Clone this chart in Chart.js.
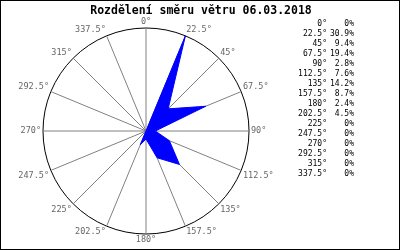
<!DOCTYPE html>
<html>
<head>
<meta charset="utf-8">
<script src="https://cdn.jsdelivr.net/npm/chart.js@4"></script>
<style>
    body { margin: 0; background: #fff; }
    #box {
        position: relative;
        width: 400px;
        height: 250px;
        border: 1px solid #000;
        box-sizing: border-box;
    }
    #chart { position: absolute; left: 0; top: 0; }
    #title {
        position: absolute;
        left: 0;
        width: 400px;
        top: 3px;
        text-align: center;
        font: bold 11.5px "DejaVu Sans Mono", monospace;
        line-height: 12px;
        color: #000;
    }
    .col {
        position: absolute;
        top: 17.5px;
        font: 8px "DejaVu Sans Mono", monospace;
        line-height: 10px;
        white-space: pre;
        text-align: right;
        color: #000;
    }
</style>
</head>
<body>
<div id="box">
    <canvas id="chart" width="400" height="250"></canvas>
    <div id="title"></div>
    <div id="legend-dir" class="col" style="right: 72px;"></div>
    <div id="legend-val" class="col" style="right: 45px;"></div>
</div>
<script>
// wind directions (degrees) and share of time (%)
const directions = [0, 22.5, 45, 67.5, 90, 112.5, 135, 157.5, 180, 202.5, 225, 247.5, 270, 292.5, 315, 337.5];
const shares = [0, 30.9, 9.4, 19.4, 2.8, 7.6, 14.2, 8.7, 2.4, 4.5, 0, 0, 0, 0, 0, 0];
const titleText = "Rozdělení směru větru 06.03.2018";

const dirLabels = directions.map(function (d) {
    return d + "°";
});
const shareLabels = shares.map(function (v) {
    return v === 0 ? "0%" : v.toFixed(1) + "%";
});

document.getElementById("title").textContent = titleText;
document.getElementById("legend-dir").textContent = dirLabels.join("\n");
document.getElementById("legend-val").textContent = shareLabels.join("\n");

const maxShare = Math.max(...shares);
const mono = "'DejaVu Sans Mono', monospace";

new Chart(document.getElementById("chart"), {
    type: "radar",
    data: {
        labels: dirLabels,
        datasets: [
            {
                data: shares,
                backgroundColor: "#0000ff",
                borderColor: "#0000ff",
                borderWidth: 1,
                fill: true,
                pointRadius: 0,
                tension: 0,
            },
        ],
    },
    options: {
        responsive: false,
        animation: false,
        layout: {
            padding: { left: 5, right: 115, top: 16.5, bottom: 6.5 },
        },
        plugins: {
            legend: { display: false },
            tooltip: { enabled: false },
            title: { display: false },
        },
        scales: {
            r: {
                min: 0,
                max: maxShare,
                afterBuildTicks: function (scale) {
                    scale.ticks = [{ value: 0 }, { value: maxShare }];
                },
                ticks: { display: false },
                grid: { circular: true, color: "#000", lineWidth: 1 },
                angleLines: { color: "#808080", lineWidth: 1 },
                pointLabels: {
                    color: "#666",
                    padding: 2,
                    font: { family: mono, size: 8.5, lineHeight: 1 },
                },
            },
        },
    },
});
</script>
</body>
</html>
